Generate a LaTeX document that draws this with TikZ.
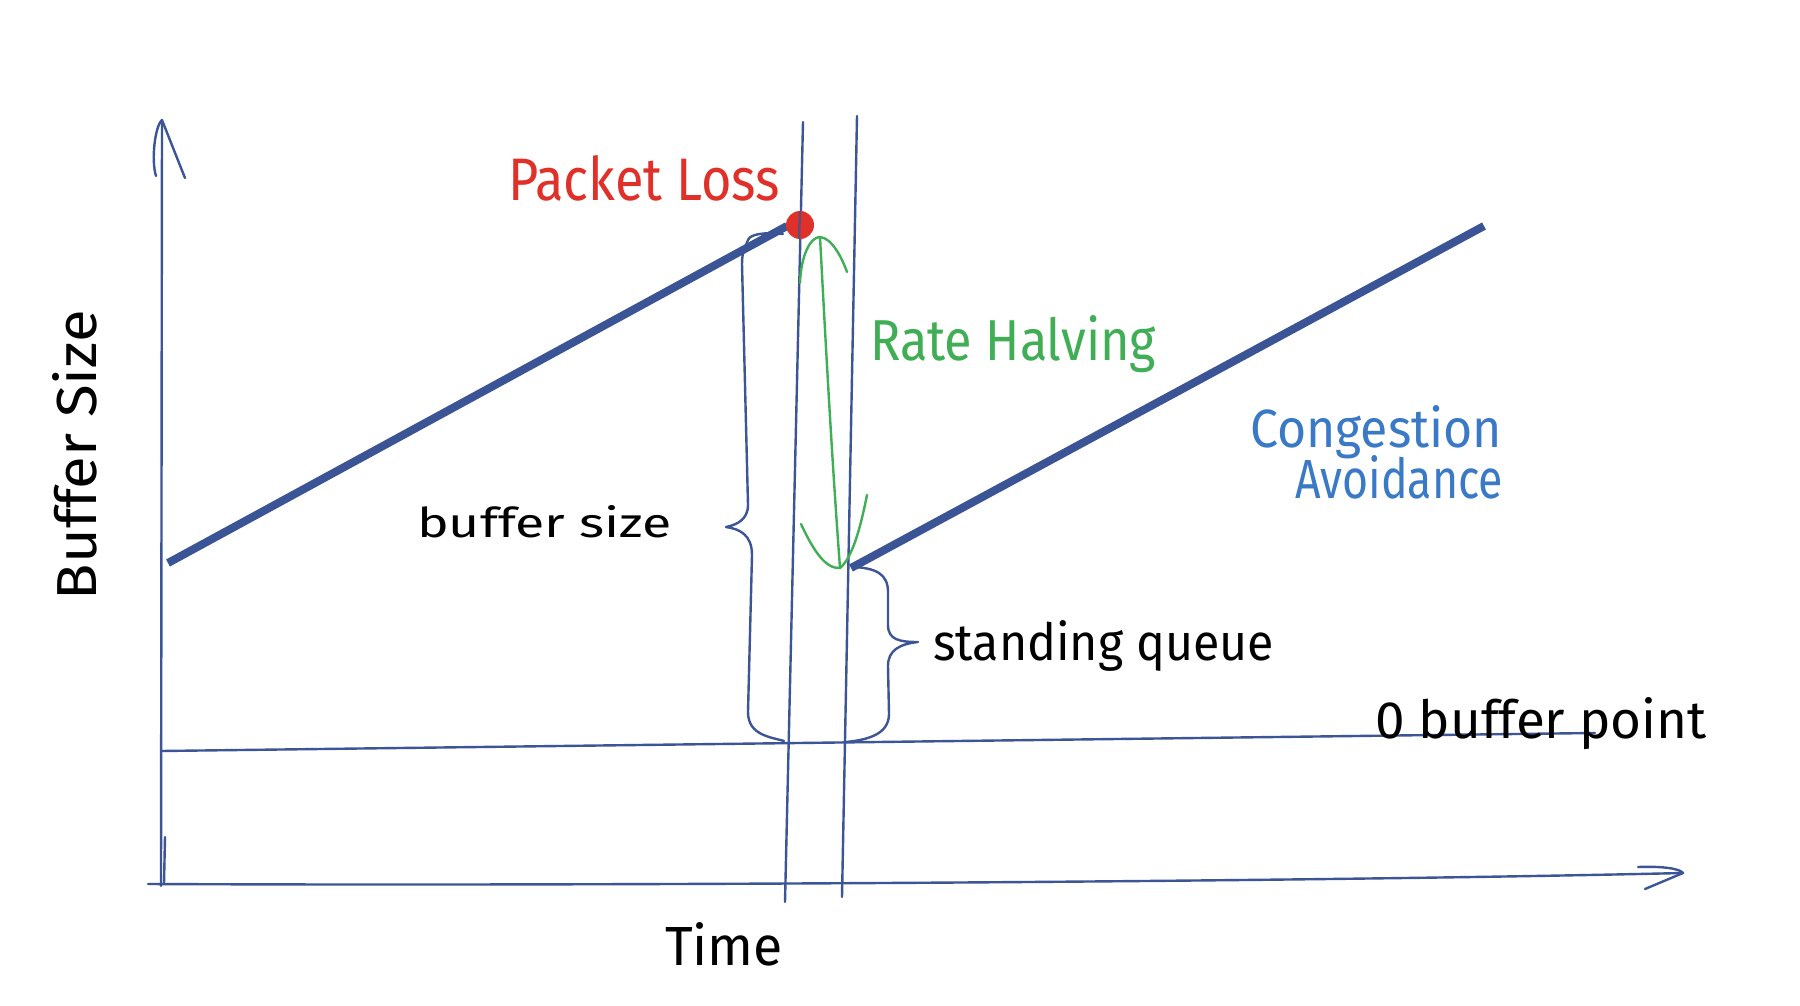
\documentclass[tikz,border=0pt]{standalone}
\usepackage{fontspec}
\setmainfont{Fira Sans}
\usepackage{graphicx}
\definecolor{axisblue}{HTML}{3C5596}
\definecolor{thickblue}{HTML}{3A5495}
\definecolor{lossred}{HTML}{E0302A}
\definecolor{rhgreen}{HTML}{3FAE55}
\definecolor{cablue}{HTML}{3979C6}
\newcommand{\hw}[3]{\resizebox{#1}{#2}{#3}}
\begin{document}
\begin{tikzpicture}[x=0.5pt,y=-0.5pt,
  thin line/.style={draw=axisblue,line width=1.2pt,line cap=round,line join=round},
  thick line/.style={draw=thickblue,line width=4pt,line cap=butt},
  green line/.style={draw=rhgreen,line width=1.2pt,line cap=round,line join=round},
  txt/.style={inner sep=0pt,outer sep=0pt,anchor=base west}]
\useasboundingbox[fill=white] (0,0) rectangle (1800,1006);

% coordinates
\coordinate (ytop) at (162,120);
\coordinate (ybot) at (161,886);
\coordinate (yl) at (156,176);
\coordinate (yr) at (185,178);
\coordinate (tick1) at (165,837);
\coordinate (tick2) at (164,884);
\coordinate (xl) at (148,884);
\coordinate (xr) at (1683,873);
\coordinate (xu) at (1638,867);
\coordinate (xd) at (1645,889);
\coordinate (zl) at (161,751);
\coordinate (zr) at (1595,733);
\coordinate (v1t) at (803,122);
\coordinate (v1b) at (785,902);
\coordinate (v2t) at (857,116);
\coordinate (v2b) at (842,897);
\coordinate (a1) at (168,563);
\coordinate (a2) at (787,226);
\coordinate (b1) at (851,568);
\coordinate (b2) at (1484,226);
\coordinate (gtop) at (820,237);
\coordinate (gbot) at (840,568);
\coordinate (gl1) at (800,283);
\coordinate (gr1) at (847,272);
\coordinate (gl2) at (801,524);
\coordinate (gr2) at (867,495);
\coordinate (bst) at (783,234);
\coordinate (bstip) at (726,527);
\coordinate (bsb) at (784,741);
\coordinate (sqt) at (853,567);
\coordinate (sqtip) at (918,642);
\coordinate (sqb) at (846,742);

% axes
\draw[thin line] (ybot) -- (ytop);
\draw[thin line] (ytop) .. controls (155,126) and (151,160) .. (yl);
\draw[thin line] (ytop) -- (yr);
\draw[thin line] (tick1) -- (tick2);
\draw[thin line] (xl) .. controls (600,886) and (1300,882) .. (xr);
\draw[thin line] (xu) .. controls (1665,866) and (1680,869) .. (xr) -- (xd);

% zero buffer line and verticals
\draw[thin line] (zl) -- (zr);
\draw[thin line] (v1t) -- (v1b);
\draw[thin line] (v2t) -- (v2b);

% braces
\draw[thin line] (bst) .. controls (765,232) and (750,234) .. (748,240)
  .. controls (746,246) and (742,250) .. (742,264)
  -- (748,505) .. controls (748,520) and (736,525) .. (bstip)
  .. controls (740,529) and (752,535) .. (752,555)
  -- (748,712) .. controls (748,735) and (770,737) .. (bsb);
\draw[thin line] (sqt) .. controls (876,568) and (888,574) .. (888,592)
  -- (888,625) .. controls (888,640) and (900,642) .. (sqtip)
  .. controls (900,644) and (888,650) .. (888,666)
  -- (889,714) .. controls (889,735) and (866,740) .. (sqb);

% thick lines
\draw[thick line] (a1) -- (a2);
\draw[thick line] (b1) -- (b2);

% packet loss dot
\node[circle,fill=lossred,inner sep=0pt,minimum size=14pt] (loss) at (800,225) {};
\draw[thin line,draw=thickblue!80!lossred] (800,212) -- (799,238);

% green double arrow
\draw[green line] (gtop) .. controls (826,350) and (832,460) .. (gbot);
\draw[green line] (gl1) .. controls (801,256) and (810,237) .. (gtop)
  .. controls (832,238) and (842,258) .. (gr1);
\draw[green line] (gl2) .. controls (814,552) and (826,569) .. (gbot)
  .. controls (852,558) and (860,530) .. (gr2);

% texts
\node[txt,text=lossred] (pl) at (508,200) {\hw{136pt}{22.5pt}{Packet Loss}};
\node[txt,text=rhgreen] (rh) at (870,360) {\hw{143pt}{22.5pt}{Rate Halving}};
\node[txt,text=cablue] (ca1) at (1250,447) {\hw{126pt}{21pt}{Congestion}};
\node[txt,text=cablue] (ca2) at (1295,498) {\hw{104pt}{21.5pt}{Avoidance}};
\node[txt] (bs) at (417,537) {\hw{127.5pt}{16pt}{buffer size}};
\node[txt] (sq) at (933,660) {\hw{170.5pt}{20pt}{standing queue}};
\node[txt] (zb) at (1375,738) {\hw{166pt}{20.5pt}{0 buffer point}};
\node[txt,rotate=90] (ylab) at (97,600) {\hw{145pt}{22pt}{Buffer Size}};
\node[txt] (xlab) at (665,965) {\hw{59pt}{21.5pt}{Time}};
\end{tikzpicture}
\end{document}
